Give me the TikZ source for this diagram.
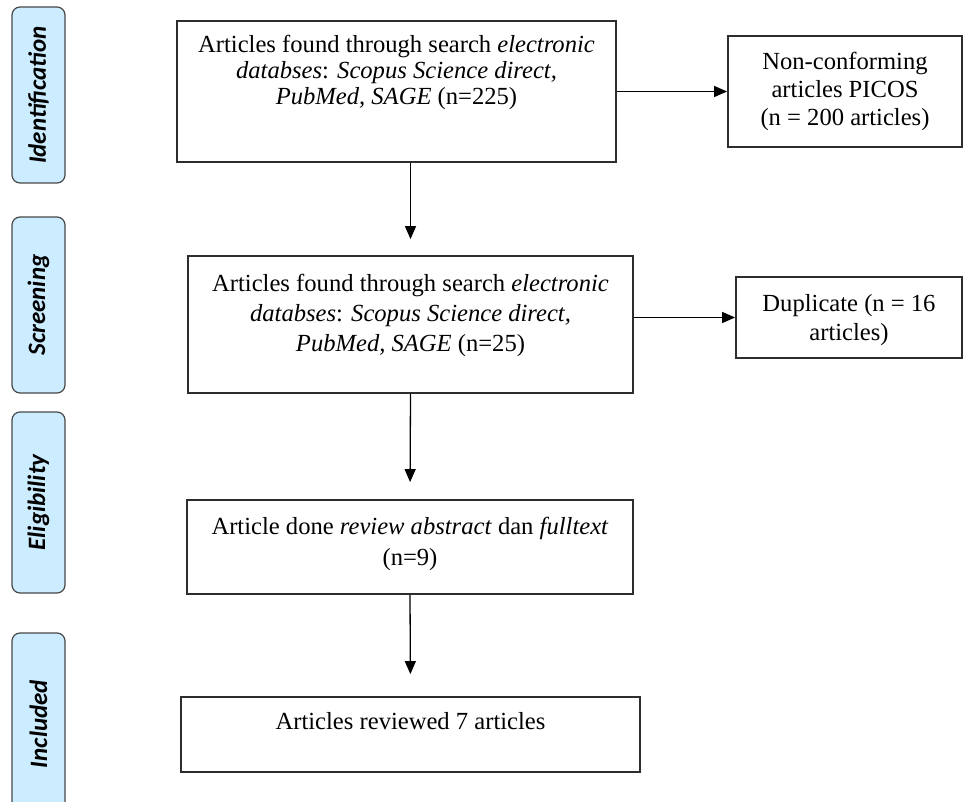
\documentclass[tikz,border=0pt]{standalone}
\usepackage{fontspec}
\setmainfont{Liberation Serif}
\newfontfamily\phasefont{Carlito}
\usetikzlibrary{arrows.meta,positioning}
\definecolor{phasefill}{RGB}{204,236,255}
\definecolor{phaseline}{RGB}{72,72,72}
\definecolor{boxline}{RGB}{45,45,45}

\begin{document}
\begin{tikzpicture}[x=1pt,y=-1pt,
  box/.style={draw=boxline,line width=1.8pt,inner sep=0pt},
  phase/.style={draw=phaseline,fill=phasefill,line width=1.2pt,rounded corners=8pt,
    minimum width=53pt,inner sep=0pt,font=\phasefont\bfseries\itshape\fontsize{25}{28}\selectfont},
  txt/.style={align=center,inner sep=0pt,font=\fontsize{24.6}{30}\selectfont},
  flow/.style={-{Triangle[width=11pt,length=13pt]},line width=1.3pt}]
\useasboundingbox (0,0) rectangle (964,802);
% phases on the left
\node[phase,minimum height=176pt] (pid) at (38.5,95) {\rotatebox{90}{Identification}};
\node[phase,minimum height=176pt] (psc) at (38.5,305) {\rotatebox{90}{Screening}};
\node[phase,minimum height=181pt] (pel) at (38.5,502.5) {\rotatebox{90}{Eligibility}};
\node[phase,minimum height=182pt] (pin) at (38.5,724) {\rotatebox{90}{Included}};
% main column
\node[box,minimum width=439pt,minimum height=141pt] (b1) at (396.5,91.5) {};
\node[txt,below=15pt of b1.north,font=\fontsize{24.6}{26}\selectfont] (b1txt)
  {Articles found through search \textit{electronic}\\
  \textit{databses}: \textit{Scopus Science direct,}\\ \textit{PubMed, SAGE} (n=225)};
\node[box,minimum width=445pt,minimum height=137pt] (b2) at (410.5,324.5) {};
\node[txt,below=18.5pt of b2.north] (b2txt) {Articles found through search \textit{electronic}\\
  \textit{databses}: \textit{Scopus Science direct,}\\ \textit{PubMed, SAGE} (n=25)};
\node[box,minimum width=446pt,minimum height=94pt] (b3) at (410,547) {};
\node[txt,below=18pt of b3.north,font=\fontsize{24.6}{31}\selectfont] (b3txt)
  {Article done \textit{review abstract} dan \textit{fulltext}\\ (n=9)};
\node[box,minimum width=459pt,minimum height=75pt] (b4) at (410.5,734.5) {};
\node[txt,below=16pt of b4.north] (b4txt) {Articles reviewed 7 articles};
% excluded
\node[box,txt,minimum width=234pt,minimum height=111pt,font=\fontsize{24.6}{28}\selectfont] (nc)
  at (845,91.5) {Non-conforming\\ articles PICOS\\ (n = 200 articles)};
\node[box,minimum width=226pt,minimum height=81pt] (dup) at (849,317.5) {};
\node[txt,yshift=-3pt,font=\fontsize{24.6}{29}\selectfont] (duptxt) at (dup)
  {Duplicate (n = 16\\ articles)};
% arrows
\draw[flow] (b1) -- (nc);
\draw[flow] (b2.east |- dup.west) -- (dup.west);
\draw[flow,shorten >=16pt] (b1.south -| b2.north) -- (b2.north);
\draw[flow,shorten >=17pt] (b2.south) -- (b3.north);
\draw[flow,shorten >=22pt] (b3.south) -- (b4.north);
\end{tikzpicture}
\end{document}
